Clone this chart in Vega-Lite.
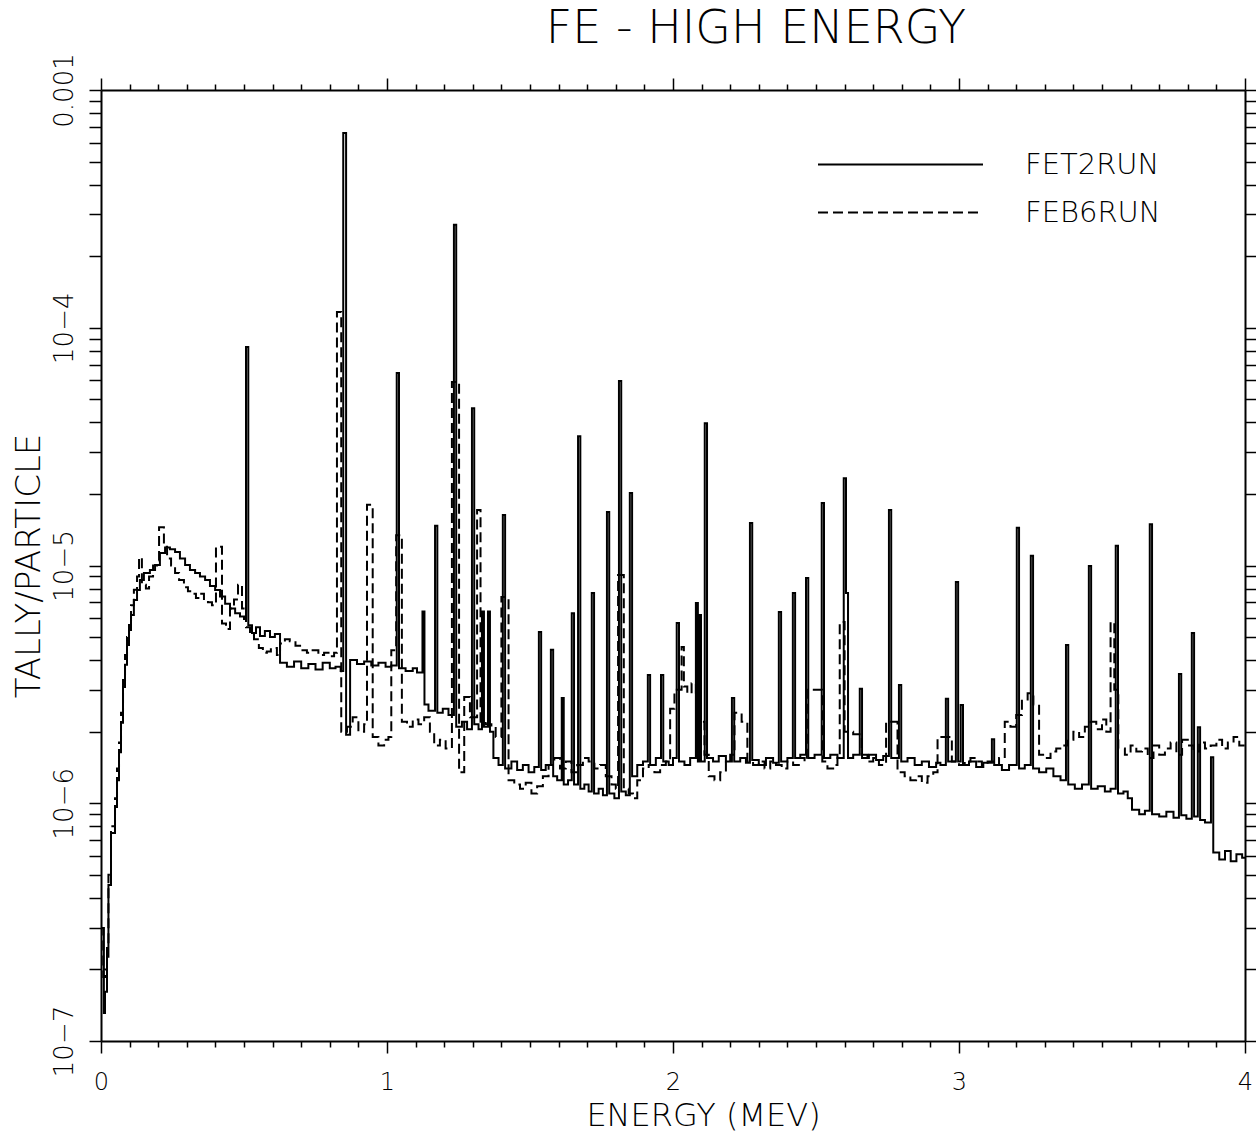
{
  "$schema": "https://vega.github.io/schema/vega-lite/v6.json",
  "width": 1144,
  "height": 951,
  "autosize": {"type": "none"},
  "padding": {"left": 101, "top": 90, "right": 11, "bottom": 95},
  "background": "white",
  "title": {
    "text": "FE - HIGH ENERGY",
    "font": "DejaVu Sans",
    "fontSize": 46,
    "fontWeight": 200,
    "color": "black",
    "anchor": "middle",
    "frame": "group",
    "dx": 83,
    "offset": 0
  },
  "config": {
    "view": {"stroke": null},
    "axis": {
      "grid": false,
      "domainColor": "black",
      "domainWidth": 2,
      "tickColor": "black",
      "tickWidth": 1.5,
      "labelColor": "black",
      "titleColor": "black",
      "labelFont": "DejaVu Sans",
      "titleFont": "DejaVu Sans",
      "labelFontWeight": 200,
      "titleFontWeight": 200,
      "labelOverlap": false,
      "labelFlush": false
    },
    "legend": {
      "labelFont": "DejaVu Sans",
      "labelFontWeight": 200,
      "labelColor": "black"
    }
  },
  "datasets": {
    "spectra": [
      {"run": "FET2RUN", "e": 0, "t": 2.99e-7},
      {"run": "FET2RUN", "e": 0.01, "t": 1.31e-7},
      {"run": "FET2RUN", "e": 0.014, "t": 1.61e-7},
      {"run": "FET2RUN", "e": 0.021, "t": 2.26e-7},
      {"run": "FET2RUN", "e": 0.026, "t": 4.53e-7},
      {"run": "FET2RUN", "e": 0.035, "t": 7.5e-7},
      {"run": "FET2RUN", "e": 0.049, "t": 9.64e-7},
      {"run": "FET2RUN", "e": 0.056, "t": 1.25e-6},
      {"run": "FET2RUN", "e": 0.063, "t": 1.64e-6},
      {"run": "FET2RUN", "e": 0.07, "t": 2.18e-6},
      {"run": "FET2RUN", "e": 0.077, "t": 3.08e-6},
      {"run": "FET2RUN", "e": 0.084, "t": 3.82e-6},
      {"run": "FET2RUN", "e": 0.091, "t": 4.63e-6},
      {"run": "FET2RUN", "e": 0.098, "t": 5.36e-6},
      {"run": "FET2RUN", "e": 0.105, "t": 6.19e-6},
      {"run": "FET2RUN", "e": 0.115, "t": 7.16e-6},
      {"run": "FET2RUN", "e": 0.126, "t": 7.89e-6},
      {"run": "FET2RUN", "e": 0.136, "t": 8.69e-6},
      {"run": "FET2RUN", "e": 0.15, "t": 9.3e-6},
      {"run": "FET2RUN", "e": 0.171, "t": 9.57e-6},
      {"run": "FET2RUN", "e": 0.189, "t": 1.005e-5},
      {"run": "FET2RUN", "e": 0.206, "t": 1.13e-5},
      {"run": "FET2RUN", "e": 0.224, "t": 1.19e-5},
      {"run": "FET2RUN", "e": 0.241, "t": 1.17e-5},
      {"run": "FET2RUN", "e": 0.259, "t": 1.14e-5},
      {"run": "FET2RUN", "e": 0.276, "t": 1.07e-5},
      {"run": "FET2RUN", "e": 0.294, "t": 1.005e-5},
      {"run": "FET2RUN", "e": 0.311, "t": 9.57e-6},
      {"run": "FET2RUN", "e": 0.329, "t": 9.3e-6},
      {"run": "FET2RUN", "e": 0.346, "t": 9.0e-6},
      {"run": "FET2RUN", "e": 0.364, "t": 8.69e-6},
      {"run": "FET2RUN", "e": 0.381, "t": 8.2e-6},
      {"run": "FET2RUN", "e": 0.399, "t": 7.89e-6},
      {"run": "FET2RUN", "e": 0.416, "t": 7.4e-6},
      {"run": "FET2RUN", "e": 0.434, "t": 6.9e-6},
      {"run": "FET2RUN", "e": 0.451, "t": 6.6e-6},
      {"run": "FET2RUN", "e": 0.469, "t": 6.3e-6},
      {"run": "FET2RUN", "e": 0.486, "t": 6.1e-6},
      {"run": "FET2RUN", "e": 0.5, "t": 5.95e-6},
      {"run": "FET2RUN", "e": 0.507, "t": 8.3e-5},
      {"run": "FET2RUN", "e": 0.515, "t": 5.6e-6},
      {"run": "FET2RUN", "e": 0.528, "t": 5.2e-6},
      {"run": "FET2RUN", "e": 0.542, "t": 5.5e-6},
      {"run": "FET2RUN", "e": 0.556, "t": 5.05e-6},
      {"run": "FET2RUN", "e": 0.573, "t": 5.3e-6},
      {"run": "FET2RUN", "e": 0.591, "t": 5.0e-6},
      {"run": "FET2RUN", "e": 0.608, "t": 5.15e-6},
      {"run": "FET2RUN", "e": 0.626, "t": 3.9e-6},
      {"run": "FET2RUN", "e": 0.65, "t": 3.75e-6},
      {"run": "FET2RUN", "e": 0.675, "t": 3.95e-6},
      {"run": "FET2RUN", "e": 0.7, "t": 3.7e-6},
      {"run": "FET2RUN", "e": 0.725, "t": 3.85e-6},
      {"run": "FET2RUN", "e": 0.75, "t": 3.65e-6},
      {"run": "FET2RUN", "e": 0.775, "t": 3.9e-6},
      {"run": "FET2RUN", "e": 0.8, "t": 3.7e-6},
      {"run": "FET2RUN", "e": 0.82, "t": 3.75e-6},
      {"run": "FET2RUN", "e": 0.838, "t": 3.6e-6},
      {"run": "FET2RUN", "e": 0.847, "t": 6.59e-4},
      {"run": "FET2RUN", "e": 0.857, "t": 1.94e-6},
      {"run": "FET2RUN", "e": 0.871, "t": 4.0e-6},
      {"run": "FET2RUN", "e": 0.895, "t": 3.85e-6},
      {"run": "FET2RUN", "e": 0.92, "t": 3.95e-6},
      {"run": "FET2RUN", "e": 0.945, "t": 3.8e-6},
      {"run": "FET2RUN", "e": 0.97, "t": 3.9e-6},
      {"run": "FET2RUN", "e": 0.995, "t": 3.75e-6},
      {"run": "FET2RUN", "e": 1.015, "t": 3.8e-6},
      {"run": "FET2RUN", "e": 1.034, "t": 6.45e-5},
      {"run": "FET2RUN", "e": 1.042, "t": 3.7e-6},
      {"run": "FET2RUN", "e": 1.065, "t": 3.6e-6},
      {"run": "FET2RUN", "e": 1.09, "t": 3.7e-6},
      {"run": "FET2RUN", "e": 1.105, "t": 3.55e-6},
      {"run": "FET2RUN", "e": 1.124, "t": 6.4e-6},
      {"run": "FET2RUN", "e": 1.131, "t": 2.6e-6},
      {"run": "FET2RUN", "e": 1.145, "t": 2.45e-6},
      {"run": "FET2RUN", "e": 1.168, "t": 1.47e-5},
      {"run": "FET2RUN", "e": 1.176, "t": 2.4e-6},
      {"run": "FET2RUN", "e": 1.195, "t": 2.5e-6},
      {"run": "FET2RUN", "e": 1.215, "t": 2.35e-6},
      {"run": "FET2RUN", "e": 1.234, "t": 2.71e-4},
      {"run": "FET2RUN", "e": 1.242, "t": 2.1e-6},
      {"run": "FET2RUN", "e": 1.262, "t": 2.2e-6},
      {"run": "FET2RUN", "e": 1.28, "t": 2.05e-6},
      {"run": "FET2RUN", "e": 1.297, "t": 4.59e-5},
      {"run": "FET2RUN", "e": 1.305, "t": 2.15e-6},
      {"run": "FET2RUN", "e": 1.32, "t": 2.05e-6},
      {"run": "FET2RUN", "e": 1.332, "t": 6.4e-6},
      {"run": "FET2RUN", "e": 1.339, "t": 2.1e-6},
      {"run": "FET2RUN", "e": 1.353, "t": 6.4e-6},
      {"run": "FET2RUN", "e": 1.36, "t": 2.0e-6},
      {"run": "FET2RUN", "e": 1.372, "t": 1.55e-6},
      {"run": "FET2RUN", "e": 1.39, "t": 1.45e-6},
      {"run": "FET2RUN", "e": 1.405, "t": 1.63e-5},
      {"run": "FET2RUN", "e": 1.413, "t": 1.4e-6},
      {"run": "FET2RUN", "e": 1.435, "t": 1.5e-6},
      {"run": "FET2RUN", "e": 1.455, "t": 1.38e-6},
      {"run": "FET2RUN", "e": 1.475, "t": 1.45e-6},
      {"run": "FET2RUN", "e": 1.495, "t": 1.35e-6},
      {"run": "FET2RUN", "e": 1.515, "t": 1.42e-6},
      {"run": "FET2RUN", "e": 1.531, "t": 5.25e-6},
      {"run": "FET2RUN", "e": 1.539, "t": 1.38e-6},
      {"run": "FET2RUN", "e": 1.555, "t": 1.45e-6},
      {"run": "FET2RUN", "e": 1.573, "t": 4.42e-6},
      {"run": "FET2RUN", "e": 1.581, "t": 1.3e-6},
      {"run": "FET2RUN", "e": 1.595, "t": 1.25e-6},
      {"run": "FET2RUN", "e": 1.611, "t": 2.77e-6},
      {"run": "FET2RUN", "e": 1.618, "t": 1.2e-6},
      {"run": "FET2RUN", "e": 1.633, "t": 1.25e-6},
      {"run": "FET2RUN", "e": 1.646, "t": 6.3e-6},
      {"run": "FET2RUN", "e": 1.654, "t": 1.2e-6},
      {"run": "FET2RUN", "e": 1.668, "t": 3.5e-5},
      {"run": "FET2RUN", "e": 1.676, "t": 1.15e-6},
      {"run": "FET2RUN", "e": 1.69, "t": 1.2e-6},
      {"run": "FET2RUN", "e": 1.705, "t": 1.12e-6},
      {"run": "FET2RUN", "e": 1.716, "t": 7.66e-6},
      {"run": "FET2RUN", "e": 1.724, "t": 1.1e-6},
      {"run": "FET2RUN", "e": 1.74, "t": 1.15e-6},
      {"run": "FET2RUN", "e": 1.755, "t": 1.08e-6},
      {"run": "FET2RUN", "e": 1.769, "t": 1.68e-5},
      {"run": "FET2RUN", "e": 1.777, "t": 1.1e-6},
      {"run": "FET2RUN", "e": 1.795, "t": 1.05e-6},
      {"run": "FET2RUN", "e": 1.811, "t": 5.97e-5},
      {"run": "FET2RUN", "e": 1.819, "t": 1.12e-6},
      {"run": "FET2RUN", "e": 1.835, "t": 1.08e-6},
      {"run": "FET2RUN", "e": 1.849, "t": 2.02e-5},
      {"run": "FET2RUN", "e": 1.857, "t": 1.3e-6},
      {"run": "FET2RUN", "e": 1.875, "t": 1.45e-6},
      {"run": "FET2RUN", "e": 1.895, "t": 1.5e-6},
      {"run": "FET2RUN", "e": 1.912, "t": 3.46e-6},
      {"run": "FET2RUN", "e": 1.92, "t": 1.45e-6},
      {"run": "FET2RUN", "e": 1.94, "t": 1.55e-6},
      {"run": "FET2RUN", "e": 1.958, "t": 3.46e-6},
      {"run": "FET2RUN", "e": 1.966, "t": 1.5e-6},
      {"run": "FET2RUN", "e": 1.985, "t": 1.45e-6},
      {"run": "FET2RUN", "e": 2.0, "t": 1.55e-6},
      {"run": "FET2RUN", "e": 2.013, "t": 5.73e-6},
      {"run": "FET2RUN", "e": 2.021, "t": 1.5e-6},
      {"run": "FET2RUN", "e": 2.04, "t": 1.45e-6},
      {"run": "FET2RUN", "e": 2.06, "t": 1.55e-6},
      {"run": "FET2RUN", "e": 2.08, "t": 6.95e-6},
      {"run": "FET2RUN", "e": 2.087, "t": 1.5e-6},
      {"run": "FET2RUN", "e": 2.091, "t": 6.19e-6},
      {"run": "FET2RUN", "e": 2.098, "t": 1.5e-6},
      {"run": "FET2RUN", "e": 2.111, "t": 3.97e-5},
      {"run": "FET2RUN", "e": 2.119, "t": 1.55e-6},
      {"run": "FET2RUN", "e": 2.14, "t": 1.5e-6},
      {"run": "FET2RUN", "e": 2.16, "t": 1.58e-6},
      {"run": "FET2RUN", "e": 2.185, "t": 1.5e-6},
      {"run": "FET2RUN", "e": 2.206, "t": 2.77e-6},
      {"run": "FET2RUN", "e": 2.214, "t": 1.5e-6},
      {"run": "FET2RUN", "e": 2.235, "t": 1.55e-6},
      {"run": "FET2RUN", "e": 2.255, "t": 1.48e-6},
      {"run": "FET2RUN", "e": 2.269, "t": 1.51e-5},
      {"run": "FET2RUN", "e": 2.277, "t": 1.52e-6},
      {"run": "FET2RUN", "e": 2.3, "t": 1.45e-6},
      {"run": "FET2RUN", "e": 2.325, "t": 1.55e-6},
      {"run": "FET2RUN", "e": 2.35, "t": 1.48e-6},
      {"run": "FET2RUN", "e": 2.37, "t": 6.37e-6},
      {"run": "FET2RUN", "e": 2.378, "t": 1.5e-6},
      {"run": "FET2RUN", "e": 2.4, "t": 1.55e-6},
      {"run": "FET2RUN", "e": 2.419, "t": 7.66e-6},
      {"run": "FET2RUN", "e": 2.427, "t": 1.55e-6},
      {"run": "FET2RUN", "e": 2.445, "t": 1.6e-6},
      {"run": "FET2RUN", "e": 2.465, "t": 8.86e-6},
      {"run": "FET2RUN", "e": 2.473, "t": 1.55e-6},
      {"run": "FET2RUN", "e": 2.495, "t": 1.6e-6},
      {"run": "FET2RUN", "e": 2.52, "t": 1.83e-5},
      {"run": "FET2RUN", "e": 2.528, "t": 1.55e-6},
      {"run": "FET2RUN", "e": 2.55, "t": 1.6e-6},
      {"run": "FET2RUN", "e": 2.575, "t": 1.55e-6},
      {"run": "FET2RUN", "e": 2.597, "t": 2.33e-5},
      {"run": "FET2RUN", "e": 2.605, "t": 7.66e-6},
      {"run": "FET2RUN", "e": 2.612, "t": 1.55e-6},
      {"run": "FET2RUN", "e": 2.63, "t": 1.6e-6},
      {"run": "FET2RUN", "e": 2.653, "t": 3.03e-6},
      {"run": "FET2RUN", "e": 2.661, "t": 1.55e-6},
      {"run": "FET2RUN", "e": 2.685, "t": 1.6e-6},
      {"run": "FET2RUN", "e": 2.71, "t": 1.52e-6},
      {"run": "FET2RUN", "e": 2.735, "t": 1.58e-6},
      {"run": "FET2RUN", "e": 2.755, "t": 1.71e-5},
      {"run": "FET2RUN", "e": 2.763, "t": 1.55e-6},
      {"run": "FET2RUN", "e": 2.79, "t": 3.14e-6},
      {"run": "FET2RUN", "e": 2.798, "t": 1.5e-6},
      {"run": "FET2RUN", "e": 2.82, "t": 1.55e-6},
      {"run": "FET2RUN", "e": 2.845, "t": 1.45e-6},
      {"run": "FET2RUN", "e": 2.87, "t": 1.5e-6},
      {"run": "FET2RUN", "e": 2.895, "t": 1.42e-6},
      {"run": "FET2RUN", "e": 2.92, "t": 1.48e-6},
      {"run": "FET2RUN", "e": 2.935, "t": 1.45e-6},
      {"run": "FET2RUN", "e": 2.954, "t": 2.75e-6},
      {"run": "FET2RUN", "e": 2.962, "t": 1.5e-6},
      {"run": "FET2RUN", "e": 2.989, "t": 8.53e-6},
      {"run": "FET2RUN", "e": 2.997, "t": 1.5e-6},
      {"run": "FET2RUN", "e": 3.006, "t": 2.59e-6},
      {"run": "FET2RUN", "e": 3.014, "t": 1.45e-6},
      {"run": "FET2RUN", "e": 3.035, "t": 1.5e-6},
      {"run": "FET2RUN", "e": 3.06, "t": 1.42e-6},
      {"run": "FET2RUN", "e": 3.085, "t": 1.48e-6},
      {"run": "FET2RUN", "e": 3.115, "t": 1.86e-6},
      {"run": "FET2RUN", "e": 3.123, "t": 1.45e-6},
      {"run": "FET2RUN", "e": 3.15, "t": 1.38e-6},
      {"run": "FET2RUN", "e": 3.175, "t": 1.45e-6},
      {"run": "FET2RUN", "e": 3.202, "t": 1.44e-5},
      {"run": "FET2RUN", "e": 3.21, "t": 1.4e-6},
      {"run": "FET2RUN", "e": 3.23, "t": 1.45e-6},
      {"run": "FET2RUN", "e": 3.251, "t": 1.1e-5},
      {"run": "FET2RUN", "e": 3.259, "t": 1.4e-6},
      {"run": "FET2RUN", "e": 3.28, "t": 1.35e-6},
      {"run": "FET2RUN", "e": 3.305, "t": 1.4e-6},
      {"run": "FET2RUN", "e": 3.33, "t": 1.3e-6},
      {"run": "FET2RUN", "e": 3.355, "t": 1.25e-6},
      {"run": "FET2RUN", "e": 3.374, "t": 4.63e-6},
      {"run": "FET2RUN", "e": 3.382, "t": 1.2e-6},
      {"run": "FET2RUN", "e": 3.405, "t": 1.15e-6},
      {"run": "FET2RUN", "e": 3.43, "t": 1.2e-6},
      {"run": "FET2RUN", "e": 3.454, "t": 9.96e-6},
      {"run": "FET2RUN", "e": 3.462, "t": 1.15e-6},
      {"run": "FET2RUN", "e": 3.485, "t": 1.18e-6},
      {"run": "FET2RUN", "e": 3.51, "t": 1.12e-6},
      {"run": "FET2RUN", "e": 3.53, "t": 1.15e-6},
      {"run": "FET2RUN", "e": 3.548, "t": 1.21e-5},
      {"run": "FET2RUN", "e": 3.556, "t": 1.1e-6},
      {"run": "FET2RUN", "e": 3.575, "t": 1.12e-6},
      {"run": "FET2RUN", "e": 3.59, "t": 1.05e-6},
      {"run": "FET2RUN", "e": 3.605, "t": 9.4e-7},
      {"run": "FET2RUN", "e": 3.63, "t": 9.0e-7},
      {"run": "FET2RUN", "e": 3.65, "t": 9.3e-7},
      {"run": "FET2RUN", "e": 3.667, "t": 1.49e-5},
      {"run": "FET2RUN", "e": 3.675, "t": 9.0e-7},
      {"run": "FET2RUN", "e": 3.7, "t": 8.8e-7},
      {"run": "FET2RUN", "e": 3.725, "t": 9.2e-7},
      {"run": "FET2RUN", "e": 3.75, "t": 8.7e-7},
      {"run": "FET2RUN", "e": 3.769, "t": 3.5e-6},
      {"run": "FET2RUN", "e": 3.777, "t": 8.9e-7},
      {"run": "FET2RUN", "e": 3.795, "t": 8.6e-7},
      {"run": "FET2RUN", "e": 3.814, "t": 5.2e-6},
      {"run": "FET2RUN", "e": 3.822, "t": 8.8e-7},
      {"run": "FET2RUN", "e": 3.835, "t": 2.09e-6},
      {"run": "FET2RUN", "e": 3.843, "t": 8.5e-7},
      {"run": "FET2RUN", "e": 3.86, "t": 8.3e-7},
      {"run": "FET2RUN", "e": 3.881, "t": 1.56e-6},
      {"run": "FET2RUN", "e": 3.889, "t": 6.2e-7},
      {"run": "FET2RUN", "e": 3.91, "t": 5.8e-7},
      {"run": "FET2RUN", "e": 3.93, "t": 6.3e-7},
      {"run": "FET2RUN", "e": 3.95, "t": 5.7e-7},
      {"run": "FET2RUN", "e": 3.97, "t": 6.1e-7},
      {"run": "FET2RUN", "e": 3.99, "t": 5.9e-7},
      {"run": "FET2RUN", "e": 4.0, "t": 5.9e-7},

      {"run": "FEB6RUN", "e": 0, "t": 2.99e-7},
      {"run": "FEB6RUN", "e": 0.008, "t": 1.86e-7},
      {"run": "FEB6RUN", "e": 0.014, "t": 2.0e-7},
      {"run": "FEB6RUN", "e": 0.021, "t": 2.6e-7},
      {"run": "FEB6RUN", "e": 0.026, "t": 5.0e-7},
      {"run": "FEB6RUN", "e": 0.035, "t": 8.0e-7},
      {"run": "FEB6RUN", "e": 0.049, "t": 1.05e-6},
      {"run": "FEB6RUN", "e": 0.056, "t": 1.4e-6},
      {"run": "FEB6RUN", "e": 0.063, "t": 1.8e-6},
      {"run": "FEB6RUN", "e": 0.07, "t": 2.4e-6},
      {"run": "FEB6RUN", "e": 0.077, "t": 3.3e-6},
      {"run": "FEB6RUN", "e": 0.084, "t": 4.2e-6},
      {"run": "FEB6RUN", "e": 0.091, "t": 5.0e-6},
      {"run": "FEB6RUN", "e": 0.098, "t": 5.9e-6},
      {"run": "FEB6RUN", "e": 0.105, "t": 6.8e-6},
      {"run": "FEB6RUN", "e": 0.115, "t": 7.9e-6},
      {"run": "FEB6RUN", "e": 0.126, "t": 9.0e-6},
      {"run": "FEB6RUN", "e": 0.133, "t": 1.08e-5},
      {"run": "FEB6RUN", "e": 0.143, "t": 8.3e-6},
      {"run": "FEB6RUN", "e": 0.157, "t": 8.0e-6},
      {"run": "FEB6RUN", "e": 0.168, "t": 9.0e-6},
      {"run": "FEB6RUN", "e": 0.182, "t": 1.0e-5},
      {"run": "FEB6RUN", "e": 0.196, "t": 1.05e-5},
      {"run": "FEB6RUN", "e": 0.203, "t": 1.45e-5},
      {"run": "FEB6RUN", "e": 0.22, "t": 1.2e-5},
      {"run": "FEB6RUN", "e": 0.231, "t": 1.07e-5},
      {"run": "FEB6RUN", "e": 0.245, "t": 1.0e-5},
      {"run": "FEB6RUN", "e": 0.259, "t": 9.3e-6},
      {"run": "FEB6RUN", "e": 0.273, "t": 8.7e-6},
      {"run": "FEB6RUN", "e": 0.29, "t": 8.1e-6},
      {"run": "FEB6RUN", "e": 0.304, "t": 7.8e-6},
      {"run": "FEB6RUN", "e": 0.318, "t": 7.6e-6},
      {"run": "FEB6RUN", "e": 0.332, "t": 7.3e-6},
      {"run": "FEB6RUN", "e": 0.346, "t": 7.6e-6},
      {"run": "FEB6RUN", "e": 0.36, "t": 7.1e-6},
      {"run": "FEB6RUN", "e": 0.374, "t": 7.0e-6},
      {"run": "FEB6RUN", "e": 0.388, "t": 6.8e-6},
      {"run": "FEB6RUN", "e": 0.402, "t": 1.2e-5},
      {"run": "FEB6RUN", "e": 0.423, "t": 5.7e-6},
      {"run": "FEB6RUN", "e": 0.437, "t": 5.4e-6},
      {"run": "FEB6RUN", "e": 0.451, "t": 6.6e-6},
      {"run": "FEB6RUN", "e": 0.465, "t": 7.2e-6},
      {"run": "FEB6RUN", "e": 0.479, "t": 8.3e-6},
      {"run": "FEB6RUN", "e": 0.493, "t": 6.6e-6},
      {"run": "FEB6RUN", "e": 0.507, "t": 5.5e-6},
      {"run": "FEB6RUN", "e": 0.521, "t": 5.1e-6},
      {"run": "FEB6RUN", "e": 0.535, "t": 4.9e-6},
      {"run": "FEB6RUN", "e": 0.552, "t": 4.5e-6},
      {"run": "FEB6RUN", "e": 0.566, "t": 4.3e-6},
      {"run": "FEB6RUN", "e": 0.58, "t": 4.35e-6},
      {"run": "FEB6RUN", "e": 0.594, "t": 4.5e-6},
      {"run": "FEB6RUN", "e": 0.615, "t": 4.2e-6},
      {"run": "FEB6RUN", "e": 0.626, "t": 4.7e-6},
      {"run": "FEB6RUN", "e": 0.643, "t": 4.9e-6},
      {"run": "FEB6RUN", "e": 0.66, "t": 4.8e-6},
      {"run": "FEB6RUN", "e": 0.68, "t": 4.6e-6},
      {"run": "FEB6RUN", "e": 0.7, "t": 4.4e-6},
      {"run": "FEB6RUN", "e": 0.72, "t": 4.3e-6},
      {"run": "FEB6RUN", "e": 0.74, "t": 4.4e-6},
      {"run": "FEB6RUN", "e": 0.76, "t": 4.2e-6},
      {"run": "FEB6RUN", "e": 0.78, "t": 4.3e-6},
      {"run": "FEB6RUN", "e": 0.8, "t": 4.15e-6},
      {"run": "FEB6RUN", "e": 0.815, "t": 4.3e-6},
      {"run": "FEB6RUN", "e": 0.825, "t": 1.165e-4},
      {"run": "FEB6RUN", "e": 0.84, "t": 2.0e-6},
      {"run": "FEB6RUN", "e": 0.86, "t": 2.1e-6},
      {"run": "FEB6RUN", "e": 0.88, "t": 2.3e-6},
      {"run": "FEB6RUN", "e": 0.9, "t": 2.0e-6},
      {"run": "FEB6RUN", "e": 0.92, "t": 2.15e-6},
      {"run": "FEB6RUN", "e": 0.93, "t": 1.8e-5},
      {"run": "FEB6RUN", "e": 0.95, "t": 1.9e-6},
      {"run": "FEB6RUN", "e": 0.97, "t": 1.75e-6},
      {"run": "FEB6RUN", "e": 0.99, "t": 1.85e-6},
      {"run": "FEB6RUN", "e": 1.005, "t": 1.9e-6},
      {"run": "FEB6RUN", "e": 1.015, "t": 4.4e-6},
      {"run": "FEB6RUN", "e": 1.032, "t": 1.34e-5},
      {"run": "FEB6RUN", "e": 1.052, "t": 2.2e-6},
      {"run": "FEB6RUN", "e": 1.07, "t": 2.1e-6},
      {"run": "FEB6RUN", "e": 1.09, "t": 2.25e-6},
      {"run": "FEB6RUN", "e": 1.11, "t": 2.15e-6},
      {"run": "FEB6RUN", "e": 1.13, "t": 2.3e-6},
      {"run": "FEB6RUN", "e": 1.15, "t": 2.0e-6},
      {"run": "FEB6RUN", "e": 1.165, "t": 1.75e-6},
      {"run": "FEB6RUN", "e": 1.185, "t": 1.85e-6},
      {"run": "FEB6RUN", "e": 1.205, "t": 1.7e-6},
      {"run": "FEB6RUN", "e": 1.227, "t": 5.92e-5},
      {"run": "FEB6RUN", "e": 1.252, "t": 1.35e-6},
      {"run": "FEB6RUN", "e": 1.27, "t": 2.8e-6},
      {"run": "FEB6RUN", "e": 1.29, "t": 2.3e-6},
      {"run": "FEB6RUN", "e": 1.315, "t": 1.71e-5},
      {"run": "FEB6RUN", "e": 1.327, "t": 2.2e-6},
      {"run": "FEB6RUN", "e": 1.345, "t": 2.15e-6},
      {"run": "FEB6RUN", "e": 1.365, "t": 2.1e-6},
      {"run": "FEB6RUN", "e": 1.38, "t": 1.9e-6},
      {"run": "FEB6RUN", "e": 1.4, "t": 7.37e-6},
      {"run": "FEB6RUN", "e": 1.425, "t": 1.25e-6},
      {"run": "FEB6RUN", "e": 1.445, "t": 1.2e-6},
      {"run": "FEB6RUN", "e": 1.465, "t": 1.15e-6},
      {"run": "FEB6RUN", "e": 1.485, "t": 1.22e-6},
      {"run": "FEB6RUN", "e": 1.505, "t": 1.1e-6},
      {"run": "FEB6RUN", "e": 1.525, "t": 1.18e-6},
      {"run": "FEB6RUN", "e": 1.545, "t": 1.3e-6},
      {"run": "FEB6RUN", "e": 1.565, "t": 1.45e-6},
      {"run": "FEB6RUN", "e": 1.585, "t": 1.55e-6},
      {"run": "FEB6RUN", "e": 1.605, "t": 1.4e-6},
      {"run": "FEB6RUN", "e": 1.625, "t": 1.5e-6},
      {"run": "FEB6RUN", "e": 1.645, "t": 1.35e-6},
      {"run": "FEB6RUN", "e": 1.665, "t": 1.45e-6},
      {"run": "FEB6RUN", "e": 1.685, "t": 1.55e-6},
      {"run": "FEB6RUN", "e": 1.705, "t": 1.5e-6},
      {"run": "FEB6RUN", "e": 1.725, "t": 1.4e-6},
      {"run": "FEB6RUN", "e": 1.745, "t": 1.45e-6},
      {"run": "FEB6RUN", "e": 1.765, "t": 1.3e-6},
      {"run": "FEB6RUN", "e": 1.785, "t": 1.2e-6},
      {"run": "FEB6RUN", "e": 1.8, "t": 1.15e-6},
      {"run": "FEB6RUN", "e": 1.808, "t": 9.12e-6},
      {"run": "FEB6RUN", "e": 1.828, "t": 1.15e-6},
      {"run": "FEB6RUN", "e": 1.845, "t": 1.1e-6},
      {"run": "FEB6RUN", "e": 1.86, "t": 1.05e-6},
      {"run": "FEB6RUN", "e": 1.875, "t": 1.25e-6},
      {"run": "FEB6RUN", "e": 1.895, "t": 1.4e-6},
      {"run": "FEB6RUN", "e": 1.915, "t": 1.45e-6},
      {"run": "FEB6RUN", "e": 1.935, "t": 1.35e-6},
      {"run": "FEB6RUN", "e": 1.955, "t": 1.45e-6},
      {"run": "FEB6RUN", "e": 1.975, "t": 1.5e-6},
      {"run": "FEB6RUN", "e": 1.99, "t": 2.5e-6},
      {"run": "FEB6RUN", "e": 2.005, "t": 3.0e-6},
      {"run": "FEB6RUN", "e": 2.03, "t": 4.54e-6},
      {"run": "FEB6RUN", "e": 2.038, "t": 3.1e-6},
      {"run": "FEB6RUN", "e": 2.05, "t": 2.9e-6},
      {"run": "FEB6RUN", "e": 2.065, "t": 3.2e-6},
      {"run": "FEB6RUN", "e": 2.08, "t": 2.8e-6},
      {"run": "FEB6RUN", "e": 2.095, "t": 2.2e-6},
      {"run": "FEB6RUN", "e": 2.11, "t": 1.6e-6},
      {"run": "FEB6RUN", "e": 2.125, "t": 1.3e-6},
      {"run": "FEB6RUN", "e": 2.145, "t": 1.25e-6},
      {"run": "FEB6RUN", "e": 2.165, "t": 1.35e-6},
      {"run": "FEB6RUN", "e": 2.185, "t": 1.5e-6},
      {"run": "FEB6RUN", "e": 2.2, "t": 1.6e-6},
      {"run": "FEB6RUN", "e": 2.215, "t": 2.4e-6},
      {"run": "FEB6RUN", "e": 2.24, "t": 2.2e-6},
      {"run": "FEB6RUN", "e": 2.26, "t": 1.5e-6},
      {"run": "FEB6RUN", "e": 2.28, "t": 1.45e-6},
      {"run": "FEB6RUN", "e": 2.3, "t": 1.5e-6},
      {"run": "FEB6RUN", "e": 2.32, "t": 1.4e-6},
      {"run": "FEB6RUN", "e": 2.34, "t": 1.5e-6},
      {"run": "FEB6RUN", "e": 2.36, "t": 1.45e-6},
      {"run": "FEB6RUN", "e": 2.38, "t": 1.4e-6},
      {"run": "FEB6RUN", "e": 2.4, "t": 1.5e-6},
      {"run": "FEB6RUN", "e": 2.42, "t": 1.45e-6},
      {"run": "FEB6RUN", "e": 2.44, "t": 1.55e-6},
      {"run": "FEB6RUN", "e": 2.46, "t": 1.5e-6},
      {"run": "FEB6RUN", "e": 2.468, "t": 3.0e-6},
      {"run": "FEB6RUN", "e": 2.522, "t": 1.5e-6},
      {"run": "FEB6RUN", "e": 2.54, "t": 1.4e-6},
      {"run": "FEB6RUN", "e": 2.56, "t": 1.45e-6},
      {"run": "FEB6RUN", "e": 2.575, "t": 1.6e-6},
      {"run": "FEB6RUN", "e": 2.583, "t": 5.78e-6},
      {"run": "FEB6RUN", "e": 2.6, "t": 2.0e-6},
      {"run": "FEB6RUN", "e": 2.63, "t": 1.95e-6},
      {"run": "FEB6RUN", "e": 2.66, "t": 1.6e-6},
      {"run": "FEB6RUN", "e": 2.68, "t": 1.5e-6},
      {"run": "FEB6RUN", "e": 2.7, "t": 1.55e-6},
      {"run": "FEB6RUN", "e": 2.72, "t": 1.45e-6},
      {"run": "FEB6RUN", "e": 2.745, "t": 2.2e-6},
      {"run": "FEB6RUN", "e": 2.785, "t": 1.35e-6},
      {"run": "FEB6RUN", "e": 2.81, "t": 1.3e-6},
      {"run": "FEB6RUN", "e": 2.83, "t": 1.25e-6},
      {"run": "FEB6RUN", "e": 2.85, "t": 1.3e-6},
      {"run": "FEB6RUN", "e": 2.87, "t": 1.22e-6},
      {"run": "FEB6RUN", "e": 2.89, "t": 1.3e-6},
      {"run": "FEB6RUN", "e": 2.91, "t": 1.35e-6},
      {"run": "FEB6RUN", "e": 2.925, "t": 1.9e-6},
      {"run": "FEB6RUN", "e": 2.975, "t": 1.5e-6},
      {"run": "FEB6RUN", "e": 3.0, "t": 1.45e-6},
      {"run": "FEB6RUN", "e": 3.02, "t": 1.5e-6},
      {"run": "FEB6RUN", "e": 3.04, "t": 1.55e-6},
      {"run": "FEB6RUN", "e": 3.06, "t": 1.5e-6},
      {"run": "FEB6RUN", "e": 3.08, "t": 1.45e-6},
      {"run": "FEB6RUN", "e": 3.1, "t": 1.5e-6},
      {"run": "FEB6RUN", "e": 3.12, "t": 1.45e-6},
      {"run": "FEB6RUN", "e": 3.14, "t": 1.55e-6},
      {"run": "FEB6RUN", "e": 3.16, "t": 2.2e-6},
      {"run": "FEB6RUN", "e": 3.18, "t": 2.1e-6},
      {"run": "FEB6RUN", "e": 3.2, "t": 2.35e-6},
      {"run": "FEB6RUN", "e": 3.22, "t": 2.7e-6},
      {"run": "FEB6RUN", "e": 3.24, "t": 2.9e-6},
      {"run": "FEB6RUN", "e": 3.26, "t": 2.6e-6},
      {"run": "FEB6RUN", "e": 3.28, "t": 1.6e-6},
      {"run": "FEB6RUN", "e": 3.3, "t": 1.55e-6},
      {"run": "FEB6RUN", "e": 3.32, "t": 1.65e-6},
      {"run": "FEB6RUN", "e": 3.34, "t": 1.7e-6},
      {"run": "FEB6RUN", "e": 3.36, "t": 1.75e-6},
      {"run": "FEB6RUN", "e": 3.38, "t": 1.85e-6},
      {"run": "FEB6RUN", "e": 3.4, "t": 2.0e-6},
      {"run": "FEB6RUN", "e": 3.42, "t": 1.9e-6},
      {"run": "FEB6RUN", "e": 3.44, "t": 2.1e-6},
      {"run": "FEB6RUN", "e": 3.46, "t": 2.2e-6},
      {"run": "FEB6RUN", "e": 3.48, "t": 2.05e-6},
      {"run": "FEB6RUN", "e": 3.5, "t": 2.25e-6},
      {"run": "FEB6RUN", "e": 3.515, "t": 2.0e-6},
      {"run": "FEB6RUN", "e": 3.53, "t": 5.78e-6},
      {"run": "FEB6RUN", "e": 3.543, "t": 3.0e-6},
      {"run": "FEB6RUN", "e": 3.557, "t": 1.7e-6},
      {"run": "FEB6RUN", "e": 3.58, "t": 1.6e-6},
      {"run": "FEB6RUN", "e": 3.6, "t": 1.75e-6},
      {"run": "FEB6RUN", "e": 3.62, "t": 1.65e-6},
      {"run": "FEB6RUN", "e": 3.64, "t": 1.7e-6},
      {"run": "FEB6RUN", "e": 3.66, "t": 1.55e-6},
      {"run": "FEB6RUN", "e": 3.68, "t": 1.75e-6},
      {"run": "FEB6RUN", "e": 3.7, "t": 1.6e-6},
      {"run": "FEB6RUN", "e": 3.72, "t": 1.7e-6},
      {"run": "FEB6RUN", "e": 3.74, "t": 1.8e-6},
      {"run": "FEB6RUN", "e": 3.76, "t": 1.6e-6},
      {"run": "FEB6RUN", "e": 3.78, "t": 1.85e-6},
      {"run": "FEB6RUN", "e": 3.8, "t": 1.75e-6},
      {"run": "FEB6RUN", "e": 3.82, "t": 1.65e-6},
      {"run": "FEB6RUN", "e": 3.84, "t": 1.8e-6},
      {"run": "FEB6RUN", "e": 3.86, "t": 1.7e-6},
      {"run": "FEB6RUN", "e": 3.88, "t": 1.75e-6},
      {"run": "FEB6RUN", "e": 3.9, "t": 1.85e-6},
      {"run": "FEB6RUN", "e": 3.92, "t": 1.7e-6},
      {"run": "FEB6RUN", "e": 3.94, "t": 1.8e-6},
      {"run": "FEB6RUN", "e": 3.96, "t": 1.9e-6},
      {"run": "FEB6RUN", "e": 3.98, "t": 1.75e-6},
      {"run": "FEB6RUN", "e": 4.0, "t": 1.7e-6}
    ]
  },
  "data": {"name": "spectra"},
  "layer": [
    {
      "mark": {"type": "line", "interpolate": "step-after", "strokeWidth": 2, "color": "black", "strokeCap": "butt", "clip": true},
      "encoding": {
        "x": {
          "field": "e",
          "type": "quantitative",
          "scale": {"domain": [0, 4], "nice": false, "zero": false},
          "axis": {
            "orient": "bottom",
            "values": [0, 0.1, 0.2, 0.3, 0.4, 0.5, 0.6, 0.7, 0.8, 0.9, 1, 1.1, 1.2, 1.3, 1.4, 1.5, 1.6, 1.7, 1.8, 1.9, 2, 2.1, 2.2, 2.3, 2.4, 2.5, 2.6, 2.7, 2.8, 2.9, 3, 3.1, 3.2, 3.3, 3.4, 3.5, 3.6, 3.7, 3.8, 3.9, 4],
            "labelExpr": "datum.value == round(datum.value) ? '' + datum.value : ''",
            "tickSize": {"condition": {"test": "datum.value == round(datum.value)", "value": 12}, "value": 6},
            "labelFontSize": 24,
            "labelPadding": 17,
            "title": "ENERGY (MEV)",
            "titleFontSize": 32,
            "titlePadding": 6,
            "titleX": 602
          }
        },
        "y": {
          "field": "t",
          "type": "quantitative",
          "scale": {"type": "log", "domain": [1e-7, 1e-3], "nice": false},
          "axis": {
            "orient": "left",
            "values": [1e-7, 2e-7, 3e-7, 4e-7, 5e-7, 6e-7, 7e-7, 8e-7, 9e-7, 1e-6, 2e-6, 3e-6, 4e-6, 5e-6, 6e-6, 7e-6, 8e-6, 9e-6, 1e-5, 2e-5, 3e-5, 4e-5, 5e-5, 6e-5, 7e-5, 8e-5, 9e-5, 1e-4, 2e-4, 3e-4, 4e-4, 5e-4, 6e-4, 7e-4, 8e-4, 9e-4, 1e-3],
            "labelExpr": "datum.value == 0.001 ? '0.001' : datum.value == 0.0001 ? '10−4' : datum.value == 0.00001 ? '10−5' : datum.value == 0.000001 ? '10−6' : datum.value == 0.0000001 ? '10−7' : ''",
            "labelAngle": -90,
            "labelAlign": "center",
            "labelBaseline": "bottom",
            "labelFontSize": 26,
            "labelPadding": 12,
            "tickSize": 12,
            "title": "TALLY/PARTICLE",
            "titleFontSize": 34,
            "titlePadding": 5
          }
        },
        "strokeDash": {
          "field": "run",
          "type": "nominal",
          "scale": {"domain": ["FET2RUN", "FEB6RUN"], "range": [[1, 0], [10, 5]]},
          "legend": {
            "orient": "none",
            "legendX": 782,
            "legendY": 57,
            "title": null,
            "symbolType": "M-5,0H5",
            "symbolSize": 1089,
            "symbolStrokeWidth": 2,
            "symbolStrokeColor": "black",
            "labelFontSize": 29,
            "labelOffset": 107,
            "rowPadding": 15
          }
        }
      }
    },
    {
      "mark": {"type": "line", "interpolate": "step-after", "opacity": 0},
      "encoding": {
        "x": {
          "field": "e",
          "type": "quantitative",
          "axis": {
            "orient": "top",
            "values": [0, 0.1, 0.2, 0.3, 0.4, 0.5, 0.6, 0.7, 0.8, 0.9, 1, 1.1, 1.2, 1.3, 1.4, 1.5, 1.6, 1.7, 1.8, 1.9, 2, 2.1, 2.2, 2.3, 2.4, 2.5, 2.6, 2.7, 2.8, 2.9, 3, 3.1, 3.2, 3.3, 3.4, 3.5, 3.6, 3.7, 3.8, 3.9, 4],
            "labels": false,
            "title": null,
            "tickSize": {"condition": {"test": "datum.value == round(datum.value)", "value": 12}, "value": 6}
          }
        },
        "y": {
          "field": "t",
          "type": "quantitative",
          "axis": {
            "orient": "right",
            "values": [1e-7, 2e-7, 3e-7, 4e-7, 5e-7, 6e-7, 7e-7, 8e-7, 9e-7, 1e-6, 2e-6, 3e-6, 4e-6, 5e-6, 6e-6, 7e-6, 8e-6, 9e-6, 1e-5, 2e-5, 3e-5, 4e-5, 5e-5, 6e-5, 7e-5, 8e-5, 9e-5, 1e-4, 2e-4, 3e-4, 4e-4, 5e-4, 6e-4, 7e-4, 8e-4, 9e-4, 1e-3],
            "labels": false,
            "title": null,
            "tickSize": 12
          }
        },
        "detail": {"field": "run", "type": "nominal"}
      }
    }
  ],
  "resolve": {"axis": {"x": "independent", "y": "independent"}}
}
